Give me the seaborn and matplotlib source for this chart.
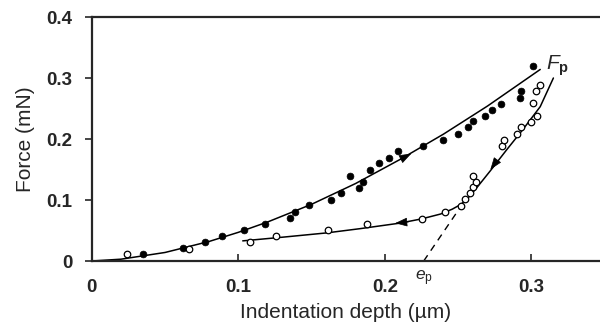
"""
Force vs indentation depth: loading / unloading cycle.
"""

import numpy as np
import pandas as pd
import matplotlib
matplotlib.use("Agg")
import matplotlib.pyplot as plt
import seaborn as sns

# --- Data ---
# loading points (filled)
load_depth = [0.035, 0.062, 0.077, 0.089, 0.104, 0.118, 0.135, 0.139, 0.148, 0.163,
              0.170, 0.182, 0.185, 0.176, 0.190, 0.196, 0.203, 0.209, 0.226, 0.240,
              0.250, 0.257, 0.260, 0.268, 0.273, 0.279, 0.292, 0.293, 0.301]
load_force = [0.011, 0.021, 0.031, 0.041, 0.051, 0.061, 0.071, 0.081, 0.091, 0.100,
              0.111, 0.120, 0.130, 0.140, 0.150, 0.160, 0.169, 0.180, 0.189, 0.198,
              0.209, 0.219, 0.229, 0.238, 0.248, 0.257, 0.268, 0.279, 0.319]

# unloading points (open)
unload_depth = [0.024, 0.066, 0.108, 0.126, 0.161, 0.188, 0.225, 0.241, 0.252, 0.255,
                0.258, 0.260, 0.262, 0.260, 0.280, 0.281, 0.290, 0.293, 0.300, 0.304,
                0.301, 0.303, 0.306]
unload_force = [0.011, 0.020, 0.031, 0.041, 0.051, 0.061, 0.069, 0.080, 0.090, 0.101,
                0.111, 0.121, 0.130, 0.140, 0.189, 0.198, 0.209, 0.219, 0.228, 0.238,
                0.259, 0.279, 0.288]

# fitted curves
load_curve_depth = [0.0, 0.02, 0.05, 0.08, 0.10, 0.12, 0.15, 0.18, 0.21, 0.24, 0.27, 0.306]
load_curve_force = [0.0, 0.003, 0.014, 0.032, 0.047, 0.064, 0.093, 0.127, 0.166, 0.208, 0.254, 0.314]

unload_curve_depth = [0.315, 0.306, 0.294, 0.283, 0.272, 0.263, 0.257, 0.252, 0.246, 0.238,
                      0.225, 0.210, 0.183, 0.160, 0.130, 0.103]
unload_curve_force = [0.300, 0.253, 0.215, 0.182, 0.148, 0.121, 0.104, 0.093, 0.085, 0.077,
                      0.069, 0.062, 0.053, 0.046, 0.039, 0.033]

# tangent to the unloading curve, hitting the axis at e_p
tangent_depth = [0.2265, 0.252]
tangent_force = [0.0, 0.090]

# direction arrows on the curves (tail -> tip)
arrow_tail_x = [0.210, 0.276, 0.216]
arrow_tail_y = [0.166, 0.163, 0.064]
arrow_tip_x = [0.218, 0.272, 0.207]
arrow_tip_y = [0.176, 0.150, 0.062]

e_p = 0.2265
F_p = (0.310, 0.320)

x_ticks = [0, 0.1, 0.2, 0.3]
x_ticklabels = ["0", "0.1", "0.2", "0.3"]
y_ticks = [0, 0.1, 0.2, 0.3, 0.4]
y_ticklabels = ["0", "0.1", "0.2", "0.3", "0.4"]


def main():
    sns.set_theme(style="ticks")
    plt.rcParams["font.family"] = ["Liberation Sans", "DejaVu Sans"]
    plt.rcParams["mathtext.fontset"] = "custom"
    plt.rcParams["mathtext.rm"] = "Liberation Sans"
    plt.rcParams["mathtext.it"] = "Liberation Sans:italic"
    plt.rcParams["mathtext.bf"] = "Liberation Sans:bold"

    fig = plt.figure(figsize=(6, 3.36), dpi=100)
    ax = fig.add_axes([0.153, 0.2232, 0.847, 0.7262])

    load_df = pd.DataFrame({"depth": load_depth, "force": load_force})
    unload_df = pd.DataFrame({"depth": unload_depth, "force": unload_force})
    lc = pd.DataFrame({"depth": load_curve_depth, "force": load_curve_force})
    uc = pd.DataFrame({"depth": unload_curve_depth, "force": unload_curve_force})

    sns.lineplot(data=lc, x="depth", y="force", color="black", lw=1.1,
                 sort=False, estimator=None, ax=ax)
    sns.lineplot(data=uc, x="depth", y="force", color="black", lw=1.1,
                 sort=False, estimator=None, ax=ax)
    ax.plot(tangent_depth, tangent_force, color="black", lw=1.0, ls=(0, (5, 4)))

    sns.scatterplot(data=load_df, x="depth", y="force", color="black", s=24,
                    edgecolor="black", linewidth=0.5, ax=ax, zorder=3)
    sns.scatterplot(data=unload_df, x="depth", y="force", facecolor="white", s=22,
                    edgecolor="black", linewidth=0.9, ax=ax, zorder=3)

    for x0, y0, x1, y1 in zip(arrow_tail_x, arrow_tail_y, arrow_tip_x, arrow_tip_y):
        ax.annotate("", xy=(x1, y1), xytext=(x0, y0),
                    arrowprops=dict(arrowstyle="-|>,head_length=0.55,head_width=0.2",
                                    color="black", lw=0.5,
                                    mutation_scale=14, shrinkA=0, shrinkB=0))

    ax.text(F_p[0], F_p[1], r"$F_\mathbf{p}$", fontsize=15, ha="left", va="center")
    ax.annotate(r"$e_\mathrm{p}$", xy=(e_p, 0), xytext=(0, -5),
                textcoords="offset points", ha="center", va="top", fontsize=12.5)

    ax.set_xlim(0, 0.3468)
    ax.set_ylim(0, 0.4)
    ax.set_xticks(x_ticks)
    ax.set_xticklabels(x_ticklabels, fontweight="bold", fontsize=13.5)
    ax.set_yticks(y_ticks)
    ax.set_yticklabels(y_ticklabels, fontweight="bold", fontsize=13.5)
    ax.tick_params(axis="x", direction="in", length=5, width=1.2, pad=13)
    ax.tick_params(axis="y", direction="out", length=5, width=1.2, pad=9)

    ax.set_xlabel("Indentation depth (µm)", fontsize=15, labelpad=5)
    ax.set_ylabel("Force (mN)", fontsize=15, labelpad=8)

    for side in ["left", "bottom", "top"]:
        ax.spines[side].set_linewidth(1.6)
        ax.spines[side].set_visible(True)
    ax.spines["right"].set_visible(False)

    fig.savefig("out.png", dpi=100)


if __name__ == "__main__":
    main()
